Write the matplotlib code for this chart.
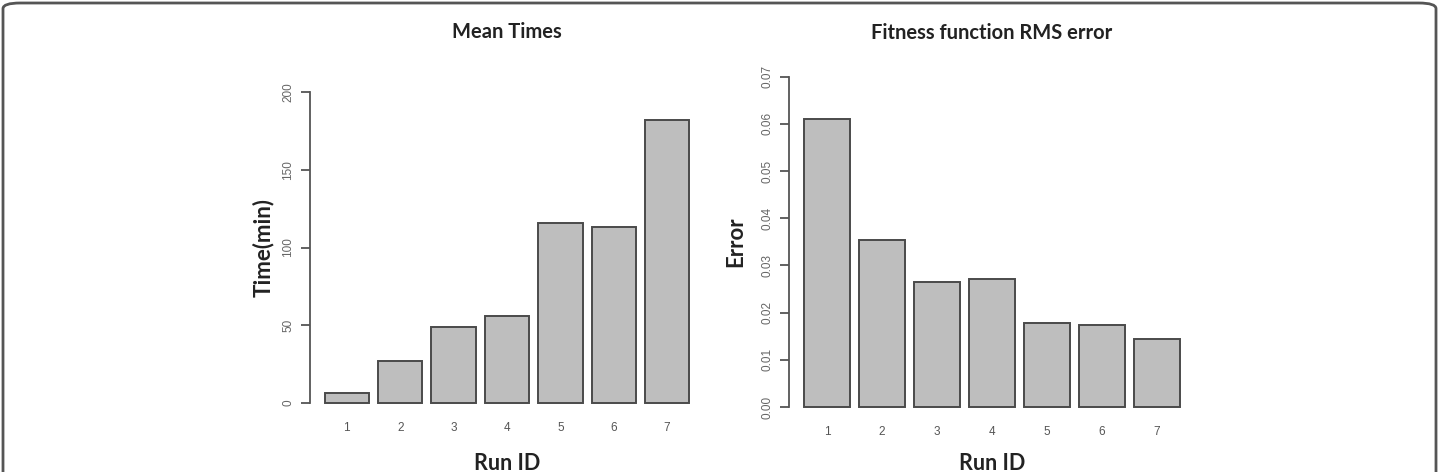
import matplotlib
matplotlib.use('Agg')
from matplotlib import pyplot as plt
from matplotlib.patches import FancyBboxPatch
import numpy as np

run_ids = ['1', '2', '3', '4', '5', '6', '7']
mean_times = [6.6, 27.2, 48.9, 56.0, 115.8, 113.0, 182.2]
rms_error = [0.0610, 0.0353, 0.0265, 0.0272, 0.0177, 0.0173, 0.0145]

W, H = 1441, 472
fig = plt.figure(figsize=(W / 100, H / 100), dpi=100)

# rounded frame; its bottom edge runs off the picture as in the source
frame = FancyBboxPatch((3 / W, -20 / H), 1 - 8 / W, 1 + 17 / H,
                       boxstyle='round,pad=0,rounding_size=0.012',
                       transform=fig.transFigure, fill=False,
                       edgecolor='#555555', linewidth=2.0, clip_on=False)
fig.patches.append(frame)

# R barplot style positions: width 1, space 0.2
pos = 0.7 + 1.2 * np.arange(len(run_ids))
axcol = '#555555'


def barpanel(px, values, ylim, ticks, ticklabels, title, ylabel, title_y, ylabel_x, xpad):
    x0, x1, y0, y1 = px
    ax = fig.add_axes([x0 / W, 1 - y1 / H, (x1 - x0) / W, (y1 - y0) / H])
    ax.bar(pos, values, width=1.0, color='#bebebe', edgecolor='#4a4a4a', linewidth=1.4)
    ax.set_xlim(-0.128, 8.728)
    ax.set_ylim(*ylim)
    for s in ['top', 'right', 'bottom']:
        ax.spines[s].set_visible(False)
    ax.spines['left'].set_bounds(ticks[0], ticks[-1])
    ax.spines['left'].set_color(axcol)
    ax.spines['left'].set_linewidth(1.3)
    ax.set_yticks(ticks)
    ax.set_yticklabels(ticklabels, rotation=90, va='center', fontsize=8.5,
                       color='#666666', family='Liberation Sans')
    ax.tick_params(axis='y', length=6.5, width=1.3, color=axcol, pad=5)
    ax.set_xticks(pos)
    ax.set_xticklabels(run_ids, fontsize=8.5, color='#555555', family='Liberation Sans')
    ax.tick_params(axis='x', length=0, pad=xpad)
    ax.set_facecolor('none')
    fig.text((x0 + x1) / 2 / W, 1 - title_y / H, title, ha='center', va='center',
             fontsize=14.5, fontweight='bold', family='Lato', color='#222222')
    fig.text(ylabel_x / W, 1 - (y0 + y1) / 2 / H, ylabel, ha='center', va='center',
             rotation=90, fontsize=16, fontweight='bold', family='Lato', color='#222222')
    fig.text((x0 + x1) / 2 / W, 1 - 464 / H, 'Run ID', ha='center', va='center',
             fontsize=15.5, fontweight='bold', family='Lato', color='#222222')
    return ax


ax1 = barpanel((310, 704, 79.6, 415.4), mean_times, (-8, 208), [0, 50, 100, 150, 200],
               ['0', '50', '100', '150', '200'], 'Mean Times', 'Time(min)', 32, 263, 5)

yt = [0.00, 0.01, 0.02, 0.03, 0.04, 0.05, 0.06, 0.07]
ax2 = barpanel((789, 1195, 63.5, 420.2), rms_error, (-0.0028, 0.0728), yt,
               ['%.2f' % v for v in yt], 'Fitness function RMS error', 'Error', 33, 736, 4)

plt.savefig('out.png', dpi=100)
